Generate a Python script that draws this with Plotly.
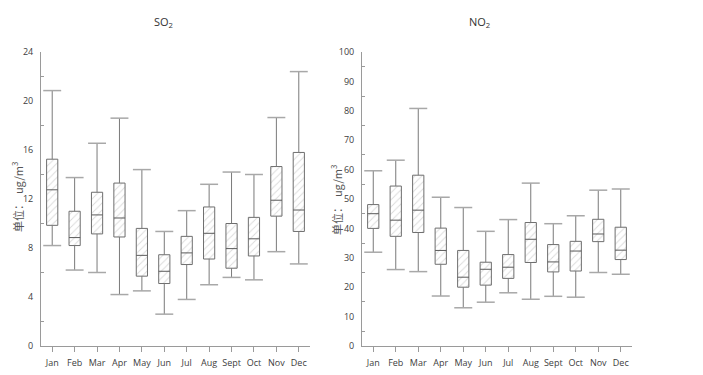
import plotly.graph_objects as go
from plotly.subplots import make_subplots

months = ["Jan", "Feb", "Mar", "Apr", "May", "Jun", "Jul", "Aug", "Sept", "Oct", "Nov", "Dec"]

so2_lower = [8.2, 6.2, 6.0, 4.2, 4.5, 2.6, 3.8, 5.0, 5.6, 5.4, 7.7, 6.7]
so2_q1 = [9.85, 8.2, 9.15, 8.9, 5.7, 5.1, 6.65, 7.1, 6.35, 7.35, 10.6, 9.35]
so2_median = [12.75, 8.85, 10.7, 10.45, 7.4, 6.1, 7.6, 9.2, 7.95, 8.75, 11.9, 11.1]
so2_q3 = [15.25, 11.0, 12.55, 13.3, 9.6, 7.45, 8.95, 11.35, 10.0, 10.5, 14.65, 15.8]
so2_upper = [20.85, 13.75, 16.55, 18.6, 14.4, 9.35, 11.05, 13.2, 14.2, 14.0, 18.65, 22.4]

no2_lower = [31.9, 26.0, 25.3, 17.0, 13.0, 14.9, 18.1, 15.9, 16.9, 16.6, 25.0, 24.4]
no2_q1 = [40.0, 37.3, 38.6, 27.8, 20.0, 20.7, 23.0, 28.4, 25.2, 25.5, 35.5, 29.4]
no2_median = [45.0, 42.8, 46.2, 32.5, 23.4, 26.1, 26.8, 36.3, 28.6, 32.3, 38.1, 32.6]
no2_q3 = [48.1, 54.4, 58.1, 40.1, 32.5, 28.5, 31.1, 42.0, 34.5, 35.6, 43.1, 40.4]
no2_upper = [59.6, 63.2, 80.8, 50.6, 47.1, 39.0, 43.0, 55.4, 41.6, 44.3, 53.0, 53.4]

BOX_W = 0.5
CAP_HALF = 0.4

fig = make_subplots(rows=1, cols=2)


def add_boxes(col, lower, q1, med, q3, upper):
    xs = list(range(len(months)))
    # hatched box bodies
    fig.add_trace(go.Bar(
        x=xs, y=[b - a for a, b in zip(q1, q3)], base=q1, width=BOX_W,
        marker=dict(color="white",
                    line=dict(color="#6e6e6e", width=1),
                    pattern=dict(shape="/", size=5, solidity=0.18, fgcolor="#b5b5b5", bgcolor="white")),
        showlegend=False, hoverinfo="skip"), row=1, col=col)
    # whiskers (vertical)
    wx, wy = [], []
    for i in xs:
        wx += [i, i, None, i, i, None]
        wy += [q3[i], upper[i], None, q1[i], lower[i], None]
    fig.add_trace(go.Scatter(x=wx, y=wy, mode="lines", line=dict(color="#7a7a7a", width=1),
                             showlegend=False, hoverinfo="skip"), row=1, col=col)
    # caps
    cx, cy = [], []
    for i in xs:
        cx += [i - CAP_HALF, i + CAP_HALF, None, i - CAP_HALF, i + CAP_HALF, None]
        cy += [upper[i], upper[i], None, lower[i], lower[i], None]
    fig.add_trace(go.Scatter(x=cx, y=cy, mode="lines", line=dict(color="#a8a8a8", width=1.5),
                             showlegend=False, hoverinfo="skip"), row=1, col=col)
    # medians
    mx, my = [], []
    for i in xs:
        mx += [i - BOX_W / 2, i + BOX_W / 2, None]
        my += [med[i], med[i], None]
    fig.add_trace(go.Scatter(x=mx, y=my, mode="lines", line=dict(color="#5a5a5a", width=1),
                             showlegend=False, hoverinfo="skip"), row=1, col=col)


add_boxes(1, so2_lower, so2_q1, so2_median, so2_q3, so2_upper)
add_boxes(2, no2_lower, no2_q1, no2_median, no2_q3, no2_upper)

tickfont = dict(family="Open Sans, Liberation Sans, sans-serif", size=9, color="#404040")
axis_common = dict(showline=True, linecolor="#9a9a9a", linewidth=1, showgrid=False, zeroline=False,
                   tickfont=tickfont, automargin=False)

for col, dom in [(1, [41 / 703, 310 / 703]), (2, [362 / 703, 632 / 703])]:
    fig.update_xaxes(domain=dom, range=[-0.5, 11.5], tickmode="array",
                     tickvals=list(range(12)), ticktext=months,
                     ticks="outside", ticklen=5, tickcolor="#9a9a9a", ticklabelstandoff=3,
                     **axis_common, row=1, col=col)

ydom = [1 - 346 / 375, 1 - 52 / 375]
fig.update_yaxes(domain=ydom, range=[0, 24], dtick=4, ticks="", ticklabelstandoff=5, **axis_common,
                 minor=dict(ticks="inside", ticklen=3, tickcolor="#9a9a9a", dtick=2),
                 row=1, col=1)
fig.update_yaxes(domain=ydom, range=[0, 100], dtick=10, ticks="", ticklabelstandoff=5, **axis_common,
                 minor=dict(ticks="inside", ticklen=3, tickcolor="#9a9a9a", dtick=5),
                 row=1, col=2)

title_font = dict(family="Open Sans, Liberation Sans, sans-serif", size=11, color="#333333")
label_font = dict(family="Noto Sans CJK SC, sans-serif", size=11, color="#555555")
for txt, xp in [("SO<sub>2</sub>", 163), ("NO<sub>2</sub>", 480)]:
    fig.add_annotation(text=txt, x=xp / 703, y=1 - 22 / 375, xref="paper", yref="paper",
                       xanchor="center", yanchor="middle", showarrow=False, font=title_font)
for xp, yp in [(17, 197), (336, 200)]:
    fig.add_annotation(text="单位：  ug/m<sup>3</sup>", x=xp / 703, y=1 - yp / 375,
                       xref="paper", yref="paper", xanchor="center", yanchor="middle",
                       showarrow=False, textangle=-90, font=label_font)

fig.update_layout(width=703, height=375, margin=dict(l=0, r=0, t=0, b=0, pad=0),
                  plot_bgcolor="white", paper_bgcolor="white", barmode="overlay",
                  showlegend=False)

fig.write_html("out.html", config={"displayModeBar": False},
               post_script="document.body.style.margin='0';")
